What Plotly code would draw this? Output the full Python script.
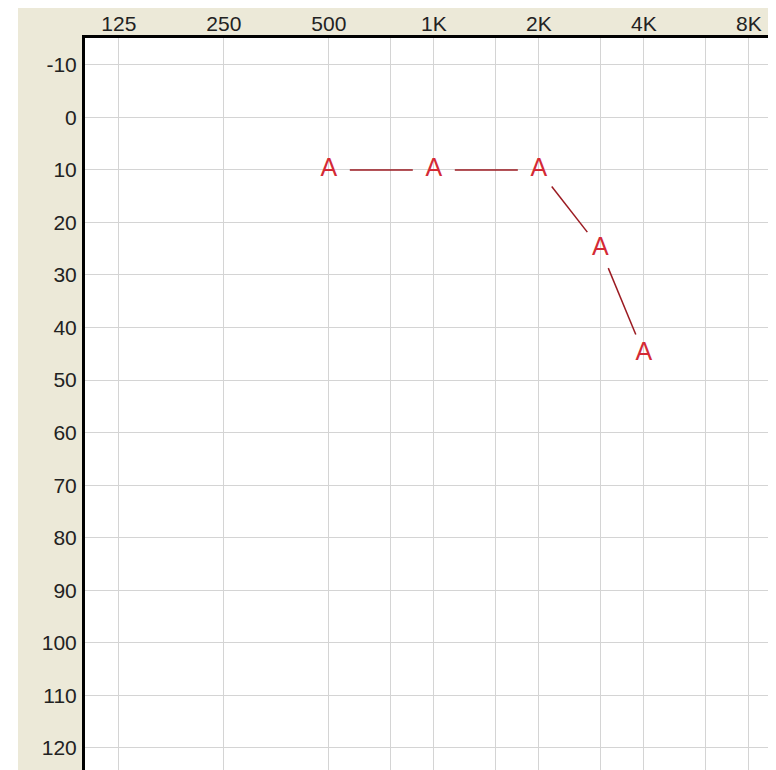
import math
import plotly.graph_objects as go

# Data
freq_hz = [500, 1000, 2000, 3000, 4000]
threshold_db = [10, 10, 10, 25, 45]
label_freqs = [125, 250, 500, 1000, 2000, 4000, 8000]
label_texts = ["125", "250", "500", "1K", "2K", "4K", "8K"]
inter_freqs = [750, 1500, 3000, 6000]
db_ticks = list(range(-10, 121, 10))
db_texts = [str(v) for v in db_ticks]
symbol = "A"

# page body has an 8px margin; figure sized to fill the rest of the window
W, H = 776, 762
ML, MT = 77, 30
x_range = [2.0, 3.981 + 8 / 691 * 1.981]
y_range = [124.2, -15.1]
plot_w = W - ML
plot_h = H - MT

def px(f, d):
    xp = (math.log10(f) - x_range[0]) / (x_range[1] - x_range[0]) * plot_w
    yp = (d - y_range[1]) / (y_range[0] - y_range[1]) * plot_h
    return xp, yp

# connecting segments with gaps around the symbols
gap_px = 21
seg_x, seg_y = [], []
for i in range(len(freq_hz) - 1):
    x0, y0 = px(freq_hz[i], threshold_db[i])
    x1, y1 = px(freq_hz[i + 1], threshold_db[i + 1])
    L = math.hypot(x1 - x0, y1 - y0)
    t0, t1 = gap_px / L, 1 - gap_px / L
    lx0 = math.log10(freq_hz[i]); lx1 = math.log10(freq_hz[i + 1])
    for t in (t0, t1):
        seg_x.append(10 ** (lx0 + (lx1 - lx0) * t))
        seg_y.append(threshold_db[i] + (threshold_db[i + 1] - threshold_db[i]) * t)
    seg_x.append(None); seg_y.append(None)

fig = go.Figure()
fig.add_trace(go.Scatter(x=seg_x, y=seg_y, mode="lines",
                         line=dict(color="#9B1B22", width=1.5),
                         hoverinfo="skip", showlegend=False))
fig.add_trace(go.Scatter(x=freq_hz, y=threshold_db, mode="text",
                         text=[symbol] * len(freq_hz), textposition="middle center",
                         textfont=dict(family="Liberation Sans", size=25, color="#D42A35"),
                         showlegend=False))

all_x = sorted(label_freqs + inter_freqs)
all_txt = [label_texts[label_freqs.index(f)] if f in label_freqs else "" for f in all_x]

tickfont = dict(family="Liberation Sans, Arial", size=21, color="#222222")
beige = "#ECE9D8"
fig.update_layout(
    width=W, height=H,
    margin=dict(l=ML, r=0, t=MT, b=0, pad=0),
    paper_bgcolor="white", plot_bgcolor="white",
    xaxis=dict(type="log", range=x_range, side="top", tickvals=all_x, ticktext=all_txt,
               showgrid=True, gridcolor="#D4D4D4", gridwidth=1, zeroline=False,
               showline=True, linecolor="black", linewidth=3, ticks="",
               tickfont=tickfont, ticklabelstandoff=-4, fixedrange=True),
    yaxis=dict(range=y_range, tickvals=db_ticks, ticktext=db_texts, showgrid=True,
               gridcolor="#D4D4D4", gridwidth=1, zeroline=False, showline=True,
               linecolor="black", linewidth=3, ticks="", tickfont=tickfont,
               ticklabelstandoff=1, fixedrange=True),
    shapes=[
        dict(type="rect", xref="paper", yref="paper", layer="below",
             x0=(10 - ML) / plot_w, x1=0, y0=-0.01, y1=1 + MT / plot_h,
             fillcolor=beige, line=dict(width=0)),
        dict(type="rect", xref="paper", yref="paper", layer="below",
             x0=(10 - ML) / plot_w, x1=1.01, y0=1, y1=1 + MT / plot_h,
             fillcolor=beige, line=dict(width=0)),
    ],
)
fig.write_html("out.html")
